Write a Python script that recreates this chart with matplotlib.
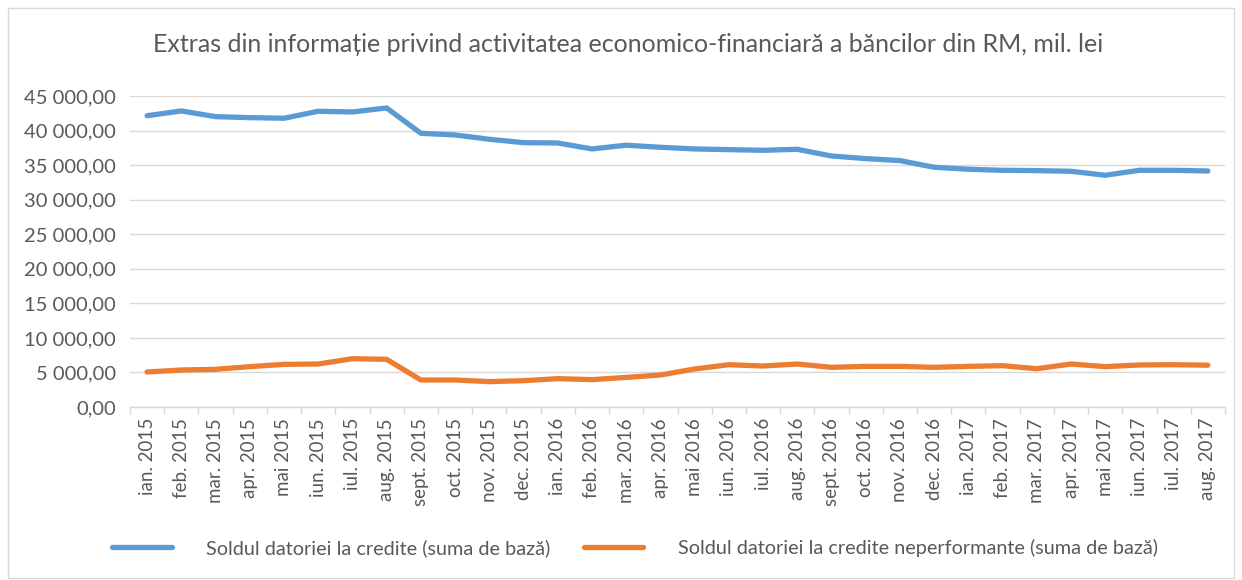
import matplotlib
matplotlib.use("Agg")
import matplotlib.pyplot as plt
import matplotlib.patches as mpatches
from matplotlib.ticker import FuncFormatter, FixedLocator

plt.rcParams["font.family"] = ["Lato", "DejaVu Sans"]

months = [
    "ian. 2015", "feb. 2015", "mar. 2015", "apr. 2015", "mai 2015", "iun. 2015",
    "iul. 2015", "aug. 2015", "sept. 2015", "oct. 2015", "nov. 2015", "dec. 2015",
    "ian. 2016", "feb. 2016", "mar. 2016", "apr. 2016", "mai 2016", "iun. 2016",
    "iul. 2016", "aug. 2016", "sept. 2016", "oct. 2016", "nov. 2016", "dec. 2016",
    "ian. 2017", "feb. 2017", "mar. 2017", "apr. 2017", "mai 2017", "iun. 2017",
    "iul. 2017", "aug. 2017",
]

credite = [
    42150, 42840, 42010, 41870, 41780, 42790, 42690, 43270, 39600, 39360, 38740, 38250,
    38200, 37340, 37880, 37580, 37340, 37240, 37140, 37290, 36320, 35940, 35650, 34690,
    34400, 34250, 34200, 34110, 33530, 34250, 34250, 34150,
]
neperformante = [
    5070, 5350, 5450, 5840, 6170, 6220, 6990, 6900, 3910, 3910, 3670, 3810,
    4100, 3960, 4280, 4630, 5500, 6120, 5930, 6220, 5740, 5880, 5880, 5740,
    5880, 5980, 5540, 6220, 5840, 6080, 6120, 6050,
]

label_credite = "Soldul datoriei la credite (suma de bază)"
label_neperf = "Soldul datoriei la credite neperformante (suma de bază)"
title = "Extras din informație privind activitatea economico-financiară a băncilor din RM, mil. lei"

text_color = "#595959"
grid_color = "#D9D9D9"

fig = plt.figure(figsize=(12.42, 5.8), dpi=100)
ax = fig.add_axes([130 / 1242, 1 - 407 / 580, 1095 / 1242, 311 / 580])

x = list(range(len(months)))
ax.plot(x, credite, color="#5B9BD5", lw=3.8, solid_capstyle="round",
        solid_joinstyle="round", label=label_credite)
ax.plot(x, neperformante, color="#ED7D31", lw=3.8, solid_capstyle="round",
        solid_joinstyle="round", label=label_neperf)

ax.set_xlim(-0.5, len(months) - 0.5)
ax.set_ylim(0, 45000)
ax.set_yticks(range(0, 45001, 5000))
ax.yaxis.set_major_formatter(FuncFormatter(
    lambda v, p: f"{v:,.2f}".replace(",", " ").replace(".", ",")))

ax.xaxis.set_major_locator(FixedLocator(x))
ax.set_xticklabels(months, rotation=90, fontsize=13.5, color=text_color)
ax.xaxis.set_minor_locator(FixedLocator([i - 0.5 for i in range(len(months) + 1)]))
ax.tick_params(axis="x", which="major", length=0, pad=8)
ax.tick_params(axis="x", which="minor", length=5, color=grid_color, width=1)
ax.tick_params(axis="y", length=0, labelsize=14.5, labelcolor=text_color, pad=10)

ax.grid(axis="y", color=grid_color, lw=1)
ax.set_axisbelow(True)
for side in ("top", "right", "left"):
    ax.spines[side].set_visible(False)
ax.spines["bottom"].set_color(grid_color)
ax.spines["bottom"].set_linewidth(1)

fig.text(628 / 1242, 1 - 45 / 580, title, ha="center", va="center",
         fontsize=18, color=text_color)

fig.legend(loc="center", bbox_to_anchor=(635 / 1242, 1 - 548 / 580), ncol=2,
           frameon=False, fontsize=14.3, labelcolor=text_color,
           handlelength=3.0, handletextpad=1.75, columnspacing=1.65)

fig.add_artist(mpatches.Rectangle((8 / 1242, 2 / 580), 1226 / 1242, 570 / 580,
                                  transform=fig.transFigure, fill=False,
                                  edgecolor=grid_color, lw=1))

fig.savefig("out.png", dpi=100)
